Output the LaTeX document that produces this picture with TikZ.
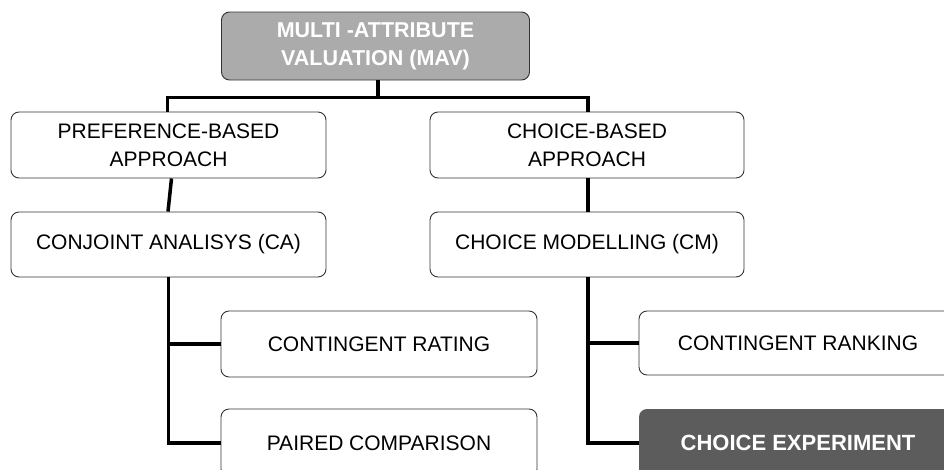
\documentclass[tikz,border=0pt]{standalone}
\usepackage{fontspec}
\setmainfont{Liberation Sans}
\begin{document}
\begin{tikzpicture}[x=1pt,y=-1pt,
  box/.style={draw=black!80, line width=0.9pt, rounded corners=8pt, fill=white,
    align=center, inner sep=0pt, font=\fontsize{21}{28}\selectfont},
  topbox/.style={box, fill=black!33, text=white, font=\fontsize{21.5}{28}\selectfont\bfseries},
  darkbox/.style={box, draw=none, fill=black!64, text=white, font=\fontsize{22}{28}\selectfont\bfseries},
  conn/.style={line width=3.5pt, black}
]
\useasboundingbox (0,0) rectangle (944,469);
\begin{scope}
\clip (0,0) rectangle (944,469);
% top level
\node[topbox, minimum width=308pt, minimum height=68pt] (mav) at (375.5,46) {MULTI -ATTRIBUTE\\VALUATION (MAV)};
% approaches
\node[box, minimum width=315pt, minimum height=66pt] (pref) at (168.5,145) {PREFERENCE-BASED\\APPROACH};
\node[box, minimum width=314pt, minimum height=66pt] (cb) at (587,145) {CHOICE-BASED\\APPROACH};
% methods
\node[box, minimum width=315pt, minimum height=65pt] (ca) at (168.5,244.5) {CONJOINT ANALISYS (CA)};
\node[box, minimum width=314pt, minimum height=65pt] (cm) at (587,244.5) {CHOICE MODELLING (CM)};
% techniques
\node[box, minimum width=316pt, minimum height=66pt] (cr) at (379,344) {CONTINGENT RATING};
\node[box, minimum width=316pt, minimum height=68pt] (pc) at (379,443) {PAIRED COMPARISON};
\node[box, minimum width=318pt, minimum height=64pt] (ck) at (798,343) {CONTINGENT RANKING};
\node[darkbox, minimum width=318pt, minimum height=68pt] (ce) at (798,443) {CHOICE EXPERIMENT};
% connectors
\draw[conn] ([xshift=2.5pt]mav.south) -- ++(0,17) coordinate (bus);
\draw[conn] ([xshift=-1pt]pref.north) |- (bus) -| ([xshift=1pt]cb.north);
\draw[conn] ([xshift=3pt]pref.south) -- ([xshift=-0.5pt]ca.north);
\draw[conn] ([xshift=1pt]cb.south) -- ([xshift=1pt]cm.north);
\draw[conn] (ca.south) -- (ca.south |- pc.west) -- (pc.west);
\draw[conn] (ca.south |- cr.west) -- (cr.west);
\draw[conn] ([xshift=1pt]cm.south) -- ([xshift=1pt]cm.south |- ce.west) -- (ce.west);
\draw[conn] ([xshift=1pt]cm.south |- ck.west) -- (ck.west);
\end{scope}
\end{tikzpicture}
\end{document}
